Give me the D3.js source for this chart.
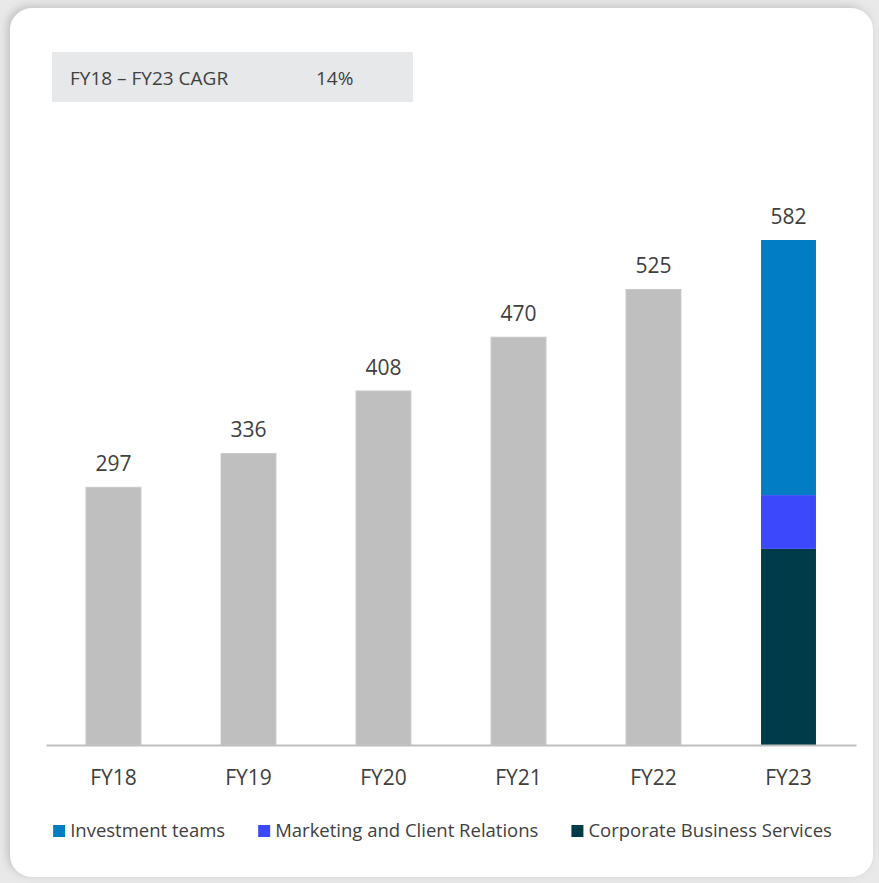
<!DOCTYPE html>
<html>
<head>
<meta charset="utf-8">
<script src="https://cdn.jsdelivr.net/npm/d3@7"></script>
<style>
  body { margin: 0; background: #e9e9e9; }
  text { font-family: "Open Sans", sans-serif; fill: #404040; }
</style>
</head>
<body>
<div id="mydiv"></div>
<script>
var years = ["FY18", "FY19", "FY20", "FY21", "FY22", "FY23"];
var totals = [297, 336, 408, 470, 525, 582];
// FY23 split, bottom to top
var segNames = ["Corporate Business Services", "Marketing and Client Relations", "Investment teams"];
var segValues = [226, 62, 294];
var segColors = ["#003b4a", "#3c48fb", "#007dc4"];
var legendOrder = ["Investment teams", "Marketing and Client Relations", "Corporate Business Services"];
var cagrLabel = "FY18 \u2013 FY23 CAGR";
var cagrValue = "14%";

var overAllWidth = 879;
var overAllHeight = 883;
var fontName = '"Open Sans", sans-serif';

function main() {
    var svg = d3.select('#mydiv')
        .append('svg')
        .attr('width', overAllWidth)
        .attr('height', overAllHeight);

    var defs = svg.append('defs');
    var shadow = defs.append('filter')
        .attr('id', 'shadow')
        .attr('x', '-5%').attr('y', '-5%')
        .attr('width', '110%').attr('height', '110%');
    shadow.append('feDropShadow')
        .attr('dx', -3).attr('dy', -2)
        .attr('stdDeviation', 4)
        .attr('flood-color', '#999')
        .attr('flood-opacity', 0.5);

    // card
    svg.append('rect')
        .attr('x', 10).attr('y', 8)
        .attr('width', 863).attr('height', 869)
        .attr('rx', 22).attr('ry', 22)
        .attr('fill', 'white')
        .attr('filter', 'url(#shadow)');

    // CAGR box
    svg.append('rect')
        .attr('x', 52).attr('y', 52)
        .attr('width', 361).attr('height', 50)
        .attr('fill', '#e7e8ea');
    svg.append('text')
        .attr('x', 70).attr('y', 85)
        .attr('font-size', 19)
        .text(cagrLabel);
    svg.append('text')
        .attr('x', 316).attr('y', 85)
        .attr('font-size', 19)
        .text(cagrValue);

    var x = d3.scaleBand()
        .domain(years)
        .range([46, 856])
        .paddingInner(0.593)
        .paddingOuter(0.2965);

    var y = d3.scaleLinear()
        .domain([0, 582])
        .range([745, 240]);

    var data = years.map(function (d, i) { return { year: d, total: totals[i] }; });

    var g = svg.append('g');

    // grey bars (all but last year)
    g.selectAll('rect.bar')
        .data(data.filter(function (d) { return d.year !== "FY23"; }))
        .enter()
        .append('rect')
        .attr('class', 'bar')
        .attr('x', function (d) { return x(d.year); })
        .attr('y', function (d) { return y(d.total); })
        .attr('width', x.bandwidth())
        .attr('height', function (d) { return y(0) - y(d.total); })
        .attr('fill', '#bfbfbf')
        .attr('stroke', '#c9c9c9')
        .attr('stroke-width', 1);

    // stacked FY23
    var stackRow = {};
    segNames.forEach(function (n, i) { stackRow[n] = segValues[i]; });
    var series = d3.stack().keys(segNames)([stackRow]);

    g.selectAll('rect.seg')
        .data(series)
        .enter()
        .append('rect')
        .attr('class', 'seg')
        .attr('x', x("FY23"))
        .attr('y', function (d) { return y(d[0][1]); })
        .attr('width', x.bandwidth())
        .attr('height', function (d) { return y(d[0][0]) - y(d[0][1]); })
        .attr('fill', function (d, i) { return segColors[i]; });

    // value labels
    g.selectAll('text.val')
        .data(data)
        .enter()
        .append('text')
        .attr('class', 'val')
        .attr('x', function (d) { return x(d.year) + x.bandwidth() / 2; })
        .attr('y', function (d) { return y(d.total) - 16; })
        .attr('text-anchor', 'middle')
        .attr('font-size', 21)
        .text(function (d) { return d.total; });

    // x axis
    var axis = svg.append('g')
        .attr('transform', 'translate(0,' + y(0) + ')')
        .call(d3.axisBottom(x).tickSize(0).tickPadding(25));
    axis.select('.domain').attr('stroke', '#bfbfbf').attr('stroke-width', 2);
    axis.selectAll('text')
        .attr('font-size', 21)
        .attr('font-family', fontName)
        .attr('fill', '#404040');

    // legend
    var legend = svg.append('g');
    var items = legend.selectAll('g')
        .data(legendOrder)
        .enter()
        .append('g');
    items.append('rect')
        .attr('width', 12).attr('height', 12)
        .attr('y', -12)
        .attr('fill', function (d) { return segColors[segNames.indexOf(d)]; });
    items.append('text')
        .attr('x', 17)
        .attr('font-size', 18.5)
        .text(function (d) { return d; });

    var gap = 33;
    var pos = 0;
    items.each(function () {
        var w = 17 + this.querySelector('text').getComputedTextLength();
        d3.select(this).attr('transform', 'translate(' + pos + ',0)');
        pos += w + gap;
    });
    var total = pos - gap;
    legend.attr('transform', 'translate(' + (442.5 - total / 2) + ',837)');
}

main();
</script>
</body>
</html>
